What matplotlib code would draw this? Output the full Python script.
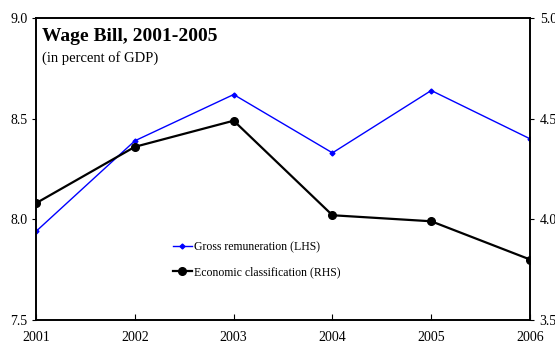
import matplotlib.pyplot as plt
from matplotlib.lines import Line2D

plt.rcParams['font.family'] = ['Liberation Serif', 'DejaVu Serif']

years = [2001, 2002, 2003, 2004, 2005, 2006]
gross_remuneration = [7.94, 8.39, 8.62, 8.33, 8.64, 8.40]
economic_class = [4.08, 4.36, 4.49, 4.02, 3.99, 3.80]

fig = plt.figure(figsize=(5.55, 3.41), dpi=100)
ax = fig.add_axes([0.065, 0.062, 0.89, 0.885])
ax2 = ax.twinx()

ax.plot(years, gross_remuneration, color='#0000ff', lw=1.0, marker='D', ms=2.5)
ax2.plot(years, economic_class, color='black', lw=1.6, marker='o', ms=5.5)

ax.set_xlim(2001, 2006)
ax.set_ylim(7.5, 9.0)
ax2.set_ylim(3.5, 5.0)
ax.set_yticks([7.5, 8.0, 8.5, 9.0])
ax2.set_yticks([3.5, 4.0, 4.5, 5.0])
ax.set_xticks(years)

for a in (ax, ax2):
    for s in a.spines.values():
        s.set_linewidth(1.2)
ax.tick_params(axis='x', direction='in', length=4, labelsize=10, pad=8)
ax.tick_params(axis='y', direction='out', length=3, labelsize=10, pad=3)
ax2.tick_params(axis='y', direction='out', length=3, labelsize=10, pad=4)

ax.text(0.013, 0.968, 'Wage Bill, 2001-2005', transform=ax.transAxes,
        fontsize=14, fontweight='bold', va='top')
ax.text(0.013, 0.89, '(in percent of GDP)', transform=ax.transAxes,
        fontsize=10.5, va='top')

handles = [
    Line2D([], [], color='#0000ff', lw=1.0, marker='D', ms=2.5),
    Line2D([], [], color='black', lw=1.6, marker='o', ms=5.5),
]
ax.legend(handles, ['Gross remuneration (LHS)', 'Economic classification (RHS)'],
          loc='upper left', bbox_to_anchor=(0.255, 0.295), frameon=False,
          fontsize=8.5, handlelength=1.6, handletextpad=0.2, labelspacing=1.1)

fig.savefig('out.png', dpi=100)
